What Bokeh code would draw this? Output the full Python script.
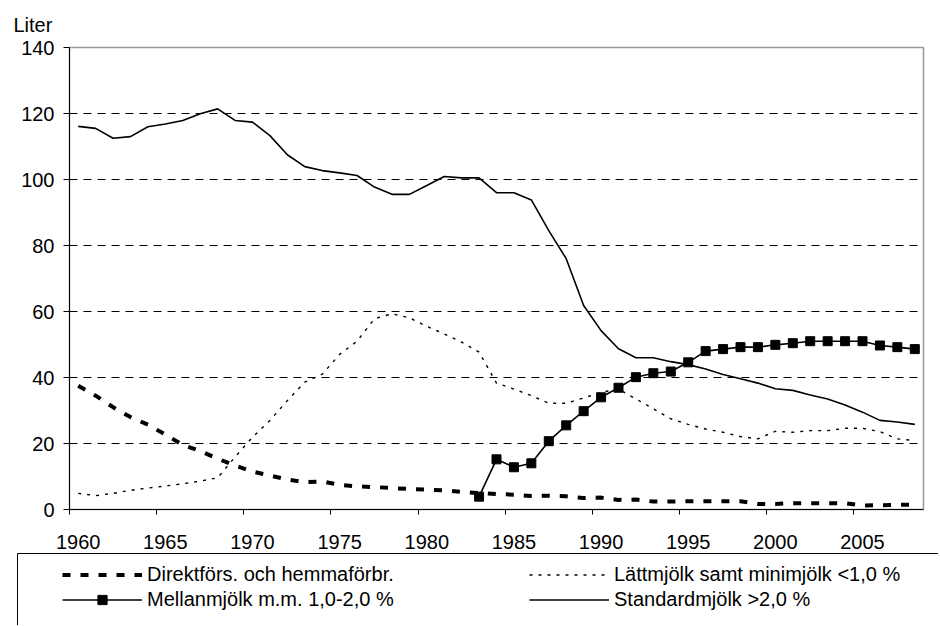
from bokeh.plotting import figure
from bokeh.models import Range1d, FixedTicker, Legend, LegendItem, LinearAxis
from bokeh.embed import file_html
from bokeh.resources import INLINE

# ---- data ----
years = list(range(1960, 2009))
direkt = [37.5, 34.5, 31.0, 28.0, 25.7, 22.7, 19.6, 17.7, 15.4, 13.3,
          11.5, 10.3, 9.1, 8.3, 8.5, 7.5, 7.0, 6.8, 6.5, 6.2,
          6.0, 5.8, 5.3, 5.0, 4.7, 4.5, 4.1, 4.2, 4.0, 3.5,
          3.6, 2.9, 3.0, 2.4, 2.4, 2.5, 2.5, 2.5, 2.5, 1.7,
          1.7, 1.9, 1.9, 1.9, 1.9, 1.2, 1.3, 1.4, 1.5]
latt = [4.9, 4.2, 4.9, 5.8, 6.5, 7.1, 7.8, 8.6, 9.6, 15.9,
        21.9, 27.0, 33.0, 38.6, 41.0, 47.0, 51.0, 57.8, 59.3, 58.1,
        55.5, 53.2, 50.7, 47.7, 38.3, 36.5, 34.5, 32.2, 32.2, 33.8,
        35.5, 36.5, 33.5, 30.5, 27.5, 25.8, 24.4, 23.4, 22.1, 21.4,
        23.7, 23.4, 23.9, 23.9, 24.6, 24.6, 23.6, 21.4, 20.9]
mellan_years = list(range(1983, 2009))
mellan = [3.9, 15.2, 12.8, 14.0, 20.7, 25.5, 29.8, 34.0, 36.9, 40.1,
          41.3, 41.8, 44.6, 48.0, 48.6, 49.2, 49.2, 49.9, 50.4, 51.0,
          51.0, 51.0, 51.0, 49.7, 49.2, 48.6]
standard = [116.1, 115.5, 112.5, 113.0, 116.0, 116.8, 117.9, 119.9, 121.4, 117.9,
            117.4, 113.3, 107.5, 103.9, 102.7, 102.0, 101.2, 97.7, 95.5, 95.5,
            98.2, 100.9, 100.5, 100.5, 96.0, 96.0, 93.8, 84.5, 76.0, 61.8,
            54.2, 48.7, 46.0, 46.0, 44.8, 43.9, 42.6, 40.9, 39.6, 38.3,
            36.6, 36.1, 34.7, 33.5, 31.7, 29.5, 27.0, 26.5, 25.8]

y_ticks = [0, 20, 40, 60, 80, 100, 120, 140]
x_label_years = [1960, 1965, 1970, 1975, 1980, 1985, 1990, 1995, 2000, 2005]

label_direkt = "Direktförs. och hemmaförbr."
label_latt = "Lättmjölk samt minimjölk <1,0 %"
label_mellan = "Mellanmjölk m.m. 1,0-2,0 %"
label_standard = "Standardmjölk >2,0 %"
y_title = "Liter"

FONT = "Liberation Sans"
FS = "20px"

STYLE_D = dict(line_color="black", line_width=4, line_dash="8 10")
STYLE_L = dict(line_color="black", line_width=1.4, line_dash="3 6")
STYLE_M = dict(line_color="black", line_width=1.6)
STYLE_MS = dict(marker="square", size=9, fill_color="black", line_color="black")
STYLE_S = dict(line_color="black", line_width=1.6)

# ---- main chart ----
p = figure(width=936, height=553,
           x_range=Range1d(years[0] - 0.5, years[-1] + 0.5),
           y_range=Range1d(y_ticks[0], y_ticks[-1]),
           output_backend="svg", toolbar_location=None,
           min_border_left=69, min_border_right=13,
           min_border_top=47, min_border_bottom=44)
p.background_fill_color = "white"
p.border_fill_color = "white"
p.outline_line_color = "#999999"
p.outline_line_width = 1.5

p.title.text = y_title
p.title.align = "left"
p.title.offset = -56
p.title.standoff = 23
p.title.text_font = FONT
p.title.text_font_size = FS
p.title.text_font_style = "normal"
p.title.text_color = "black"

xa = p.xaxis[0]
xa.ticker = FixedTicker(ticks=x_label_years,
                        minor_ticks=[y - 0.5 for y in x_label_years])
xa.major_tick_out = 0
xa.major_tick_in = 0
xa.minor_tick_out = 5
xa.minor_tick_in = 0
xa.minor_tick_line_color = "black"
xa.axis_line_color = "black"
xa.major_label_standoff = 20
xa.major_label_text_font = FONT
xa.major_label_text_font_size = FS
xa.major_label_text_color = "black"

ya = p.yaxis[0]
ya.ticker = FixedTicker(ticks=y_ticks)
ya.major_tick_out = 6
ya.major_tick_in = 0
ya.minor_tick_out = 0
ya.minor_tick_in = 0
ya.major_tick_line_color = "black"
ya.axis_line_color = "black"
ya.major_label_standoff = 9
ya.major_label_text_font = FONT
ya.major_label_text_font_size = FS
ya.major_label_text_color = "black"

p.xgrid.visible = False
p.ygrid.ticker = FixedTicker(ticks=y_ticks[1:-1])
p.ygrid.grid_line_color = "black"
p.ygrid.grid_line_width = 1
p.ygrid.grid_line_dash = "8 6"

p.line(years, standard, **STYLE_S)
p.line(years, latt, **STYLE_L)
p.line(years, direkt, **STYLE_D)
p.line(mellan_years, mellan, **STYLE_M)
p.scatter(mellan_years, mellan, **STYLE_MS)

# ---- legend box: a second figure; its left and top axis lines are the box ----
q = figure(width=938, height=72, output_backend="svg", toolbar_location=None,
           x_range=Range1d(0, 1), y_range=Range1d(0, 1),
           x_axis_location=None, y_axis_location=None,
           min_border_left=17, min_border_right=0,
           min_border_top=0, min_border_bottom=0)
q.grid.visible = False
q.outline_line_color = None
q.border_fill_color = "white"
q.background_fill_color = "white"

for side in ("left", "above"):
    ax = LinearAxis(ticker=FixedTicker(ticks=[]), axis_line_color="black",
                    axis_line_width=1, major_tick_out=0, major_tick_in=0,
                    minor_tick_out=0, minor_tick_in=0, major_label_standoff=0,
                    axis_label=None)
    q.add_layout(ax, side)

# same series, outside q's visible ranges: only their legend samples show
q_d = q.line(years, direkt, **STYLE_D)
q_l = q.line(years, latt, **STYLE_L)
q_m = q.line(mellan_years, mellan, **STYLE_M)
q_ms = q.scatter(mellan_years, mellan, **STYLE_MS)
q_s = q.line(years, standard, **STYLE_S)

legend = Legend(items=[LegendItem(label=label_direkt, renderers=[q_d]),
                       LegendItem(label=label_latt, renderers=[q_l]),
                       LegendItem(label=label_mellan, renderers=[q_m, q_ms]),
                       LegendItem(label=label_standard, renderers=[q_s])],
                location=(45, 14), orientation="horizontal", ncols=2,
                glyph_width=80, glyph_height=23, label_width=380,
                label_height=23, label_standoff=5, spacing=2,
                padding=0, margin=0,
                border_line_alpha=0, background_fill_alpha=0,
                label_text_font=FONT, label_text_font_size=FS,
                label_text_color="black")
q.add_layout(legend)

open("out.html", "w").write(file_html([p, q], INLINE))
